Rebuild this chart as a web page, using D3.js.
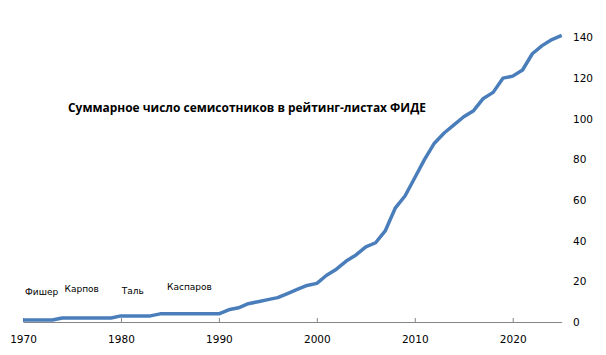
<!DOCTYPE html>
<html>
<head>
<meta charset="utf-8">
<script src="https://cdn.jsdelivr.net/npm/d3@7"></script>
<style>
  body { margin: 0; background: #fff; }
  svg { display: block; }
</style>
</head>
<body>
<script>
// data
var years = [1970, 1971, 1972, 1973, 1974, 1975, 1976, 1977, 1978, 1979,
             1980, 1981, 1982, 1983, 1984, 1985, 1986, 1987, 1988, 1989,
             1990, 1991, 1992, 1993, 1994, 1995, 1996, 1997, 1998, 1999,
             2000, 2001, 2002, 2003, 2004, 2005, 2006, 2007, 2008, 2009,
             2010, 2011, 2012, 2013, 2014, 2015, 2016, 2017, 2018, 2019,
             2020, 2021, 2022, 2023, 2024, 2025];
var totals = [1, 1, 1, 1, 2, 2, 2, 2, 2, 2,
              3, 3, 3, 3, 4, 4, 4, 4, 4, 4,
              4, 6, 7, 9, 10, 11, 12, 14, 16, 18,
              19, 23, 26, 30, 33, 37, 39, 45, 56, 62,
              71, 80, 88, 93, 97, 101, 104, 110, 113, 120,
              121, 124, 132, 136, 139, 141];
var xTicks = [1970, 1980, 1990, 2000, 2010, 2020];
var yTicks = [0, 20, 40, 60, 80, 100, 120, 140];
var champions = ["Фишер", "Карпов", "Таль", "Каспаров"];
var championYears = [1971.9, 1976, 1981.2, 1987];
var championLevels = [14.9, 16.2, 15.4, 17.4];
var title = "Суммарное число семисотников в рейтинг-листах ФИДЕ";

var svgWidth = 606;
var svgHeight = 355;

var svg = d3.select("body").append("svg")
  .attr("width", svgWidth)
  .attr("height", svgHeight);

// scales
var xScale = d3.scaleLinear()
  .domain([1970, 2025])
  .range([23, 561.7]);

var yScale = d3.scaleLinear()
  .domain([0, 140])
  .range([322, 37.5]);

// x axis, ticks point up
var xAxis = d3.axisBottom(xScale)
  .tickValues(xTicks)
  .tickFormat(d3.format("d"))
  .tickSizeInner(-4)
  .tickSizeOuter(0)
  .tickPadding(14);

var gx = svg.append("g")
  .attr("transform", "translate(0,322)")
  .call(xAxis);
gx.select(".domain").attr("stroke", "#868686");
gx.selectAll(".tick line").attr("stroke", "#868686");
gx.selectAll("text")
  .attr("fill", "#000")
  .style("font-family", "DejaVu Sans")
  .style("font-size", "10.5px");

// y axis on the right, labels only
var yAxis = d3.axisRight(yScale)
  .tickValues(yTicks)
  .tickSize(0)
  .tickPadding(11);

var gy = svg.append("g")
  .attr("transform", "translate(562,0)")
  .call(yAxis);
gy.select(".domain").remove();
gy.selectAll("text")
  .attr("fill", "#000")
  .style("font-family", "DejaVu Sans")
  .style("font-size", "10.5px");

// the line
var line = d3.line()
  .x(function(d, i) { return xScale(years[i]); })
  .y(function(d) { return yScale(d); });

svg.append("path")
  .datum(totals)
  .attr("d", line)
  .attr("fill", "none")
  .attr("stroke", "#4A7EBB")
  .attr("stroke-width", 3.5)
  .attr("stroke-linejoin", "round");

// champion notes
svg.selectAll(".champ")
  .data(champions)
  .enter()
  .append("text")
  .attr("class", "champ")
  .attr("x", function(d, i) { return xScale(championYears[i]); })
  .attr("y", function(d, i) { return yScale(championLevels[i]); })
  .attr("dy", "0.35em")
  .attr("text-anchor", "middle")
  .style("font-family", "DejaVu Sans")
  .style("font-size", "9px")
  .text(function(d) { return d; });

// title
svg.append("text")
  .attr("x", 68)
  .attr("y", 112)
  .attr("textLength", 358)
  .attr("lengthAdjust", "spacingAndGlyphs")
  .style("font-family", "Open Sans")
  .style("font-weight", "bold")
  .style("font-size", "13px")
  .text(title);
</script>
</body>
</html>
